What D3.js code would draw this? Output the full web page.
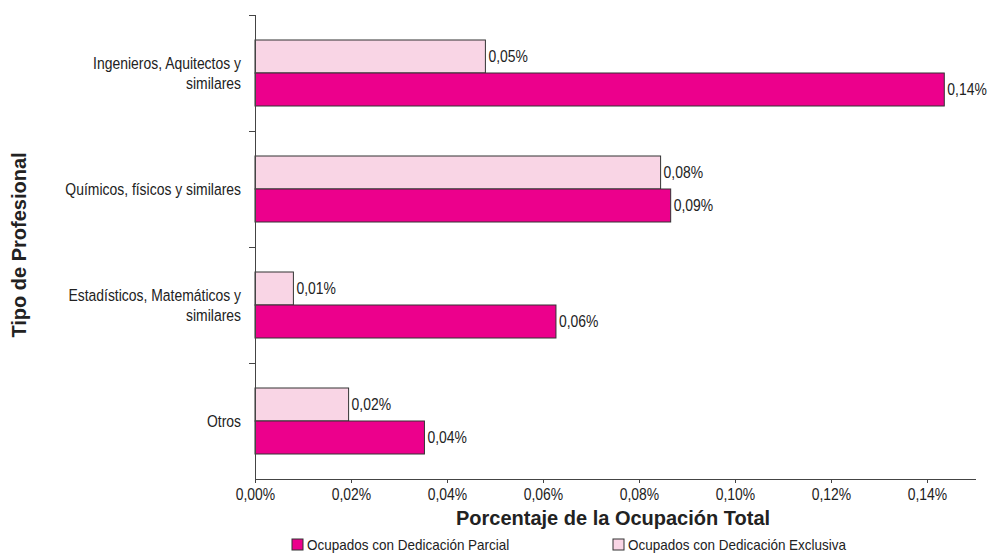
<!DOCTYPE html>
<html lang="es">
<head>
<meta charset="utf-8">
<title>Tipo de Profesional</title>
<script src="https://cdn.jsdelivr.net/npm/d3@7"></script>
<style>
  body { margin: 0; background: #fff; }
  svg text { font-family: "Liberation Sans", Arial, sans-serif; fill: #222; }
  .axis path, .axis line { stroke: #444; shape-rendering: crispEdges; }
  .axis text { font-size: 17px; font-family: "Liberation Sans", Arial, sans-serif; }
  .lbl { font-size: 17px; }
  .leg-lbl { font-size: 15px; }
  .title { font-weight: bold; font-size: 20px; }
</style>
</head>
<body>
<script>
// categories, top to bottom
var categories = ["Ingenieros, Aquitectos y similares", "Químicos, físicos y similares",
                  "Estadísticos, Matemáticos y similares", "Otros"];
var categoryLines = [["Ingenieros, Aquitectos y", "similares"], ["Químicos, físicos y similares"],
                     ["Estadísticos, Matemáticos y", "similares"], ["Otros"]];
var series = ["Ocupados con Dedicación Exclusiva", "Ocupados con Dedicación Parcial"];
// values in % of total employment
var exclusiva = [0.048, 0.0845, 0.0080, 0.0195];
var parcial = [0.1436, 0.0866, 0.0627, 0.0353];
var xTicks = [0, 0.02, 0.04, 0.06, 0.08, 0.10, 0.12, 0.14];
var legendOrder = ["Ocupados con Dedicación Parcial", "Ocupados con Dedicación Exclusiva"];

var w = 995, h = 555;
var narrow = " scale(0.82,1)"; // condensed look of the original text
var colors = { "Ocupados con Dedicación Parcial": "#ec008c", "Ocupados con Dedicación Exclusiva": "#f9d5e5" };

var es = d3.formatLocale({ decimal: ",", thousands: ".", grouping: [3], currency: ["", " €"] });
var fmt = function(d) { return es.format(".2f")(d) + "%"; };

var svg = d3.select("body").append("svg").attr("width", w).attr("height", h);

var x = d3.scaleLinear().domain([0, 0.15]).range([255, 975]);
var y = d3.scaleBand().domain(categories).range([15, 479]);
var inner = d3.scaleBand().domain(series).range([25, 91]);

var rows = categories.map(function(c, i) {
  return { cat: c, lines: categoryLines[i], vals: [exclusiva[i], parcial[i]] };
});

// bars
var g = svg.selectAll(".cat").data(rows).enter().append("g")
  .attr("class", "cat")
  .attr("transform", function(d) { return "translate(0," + y(d.cat) + ")"; });

var bars = g.selectAll(".bar").data(function(d) {
    return series.map(function(s, j) { return { s: s, v: d.vals[j] }; });
  }).enter();

bars.append("rect")
  .attr("x", x(0))
  .attr("y", function(d) { return inner(d.s); })
  .attr("width", function(d) { return x(d.v) - x(0); })
  .attr("height", inner.bandwidth())
  .attr("fill", function(d) { return colors[d.s]; })
  .attr("stroke", "#333")
  .attr("stroke-width", 1);

bars.append("text")
  .attr("class", "lbl")
  .attr("transform", function(d) {
    return "translate(" + (x(d.v) + 3) + "," + (inner(d.s) + inner.bandwidth() / 2) + ")" + narrow;
  })
  .attr("dy", "0.35em")
  .text(function(d) { return fmt(d.v); });

// category labels
g.append("text")
  .attr("class", "lbl")
  .attr("text-anchor", "end")
  .attr("transform", "translate(241," + (y.bandwidth() / 2) + ")" + narrow)
  .selectAll("tspan").data(function(d) { return d.lines; }).enter().append("tspan")
  .attr("x", 0)
  .attr("y", function(d, i, nodes) { return (i - (nodes.length - 1) / 2) * 20; })
  .attr("dy", "0.35em")
  .text(function(d) { return d; });

// y axis line + boundary ticks
var yAxis = svg.append("g").attr("class", "axis");
yAxis.append("line").attr("x1", x(0)).attr("x2", x(0)).attr("y1", 15).attr("y2", 479);
yAxis.selectAll(".tk").data(categories).enter().append("line")
  .attr("x1", x(0) - 6).attr("x2", x(0))
  .attr("y1", function(d) { return y(d); }).attr("y2", function(d) { return y(d); });

// x axis
svg.append("g")
  .attr("class", "axis")
  .attr("transform", "translate(0,479)")
  .call(d3.axisBottom(x).tickValues(xTicks).tickSize(4).tickSizeOuter(0).tickPadding(5).tickFormat(fmt))
  .selectAll(".tick text").attr("transform", narrow.trim());

// axis titles
svg.append("text").attr("class", "title")
  .attr("x", 613).attr("y", 525).attr("text-anchor", "middle")
  .text("Porcentaje de la Ocupación Total");

svg.append("text").attr("class", "title")
  .attr("transform", "translate(26,245) rotate(-90)").attr("text-anchor", "middle")
  .text("Tipo de Profesional");

// legend
var legX = [292, 613];
var leg = svg.selectAll(".leg").data(legendOrder).enter().append("g")
  .attr("transform", function(d, i) { return "translate(" + legX[i] + ",539)"; });
leg.append("rect").attr("width", 11).attr("height", 11)
  .attr("fill", function(d) { return colors[d]; })
  .attr("stroke", "#333");
leg.append("text").attr("class", "leg-lbl")
  .attr("transform", "translate(15,5.5) scale(0.9,1)").attr("dy", "0.35em")
  .text(function(d) { return d; });
</script>
</body>
</html>
